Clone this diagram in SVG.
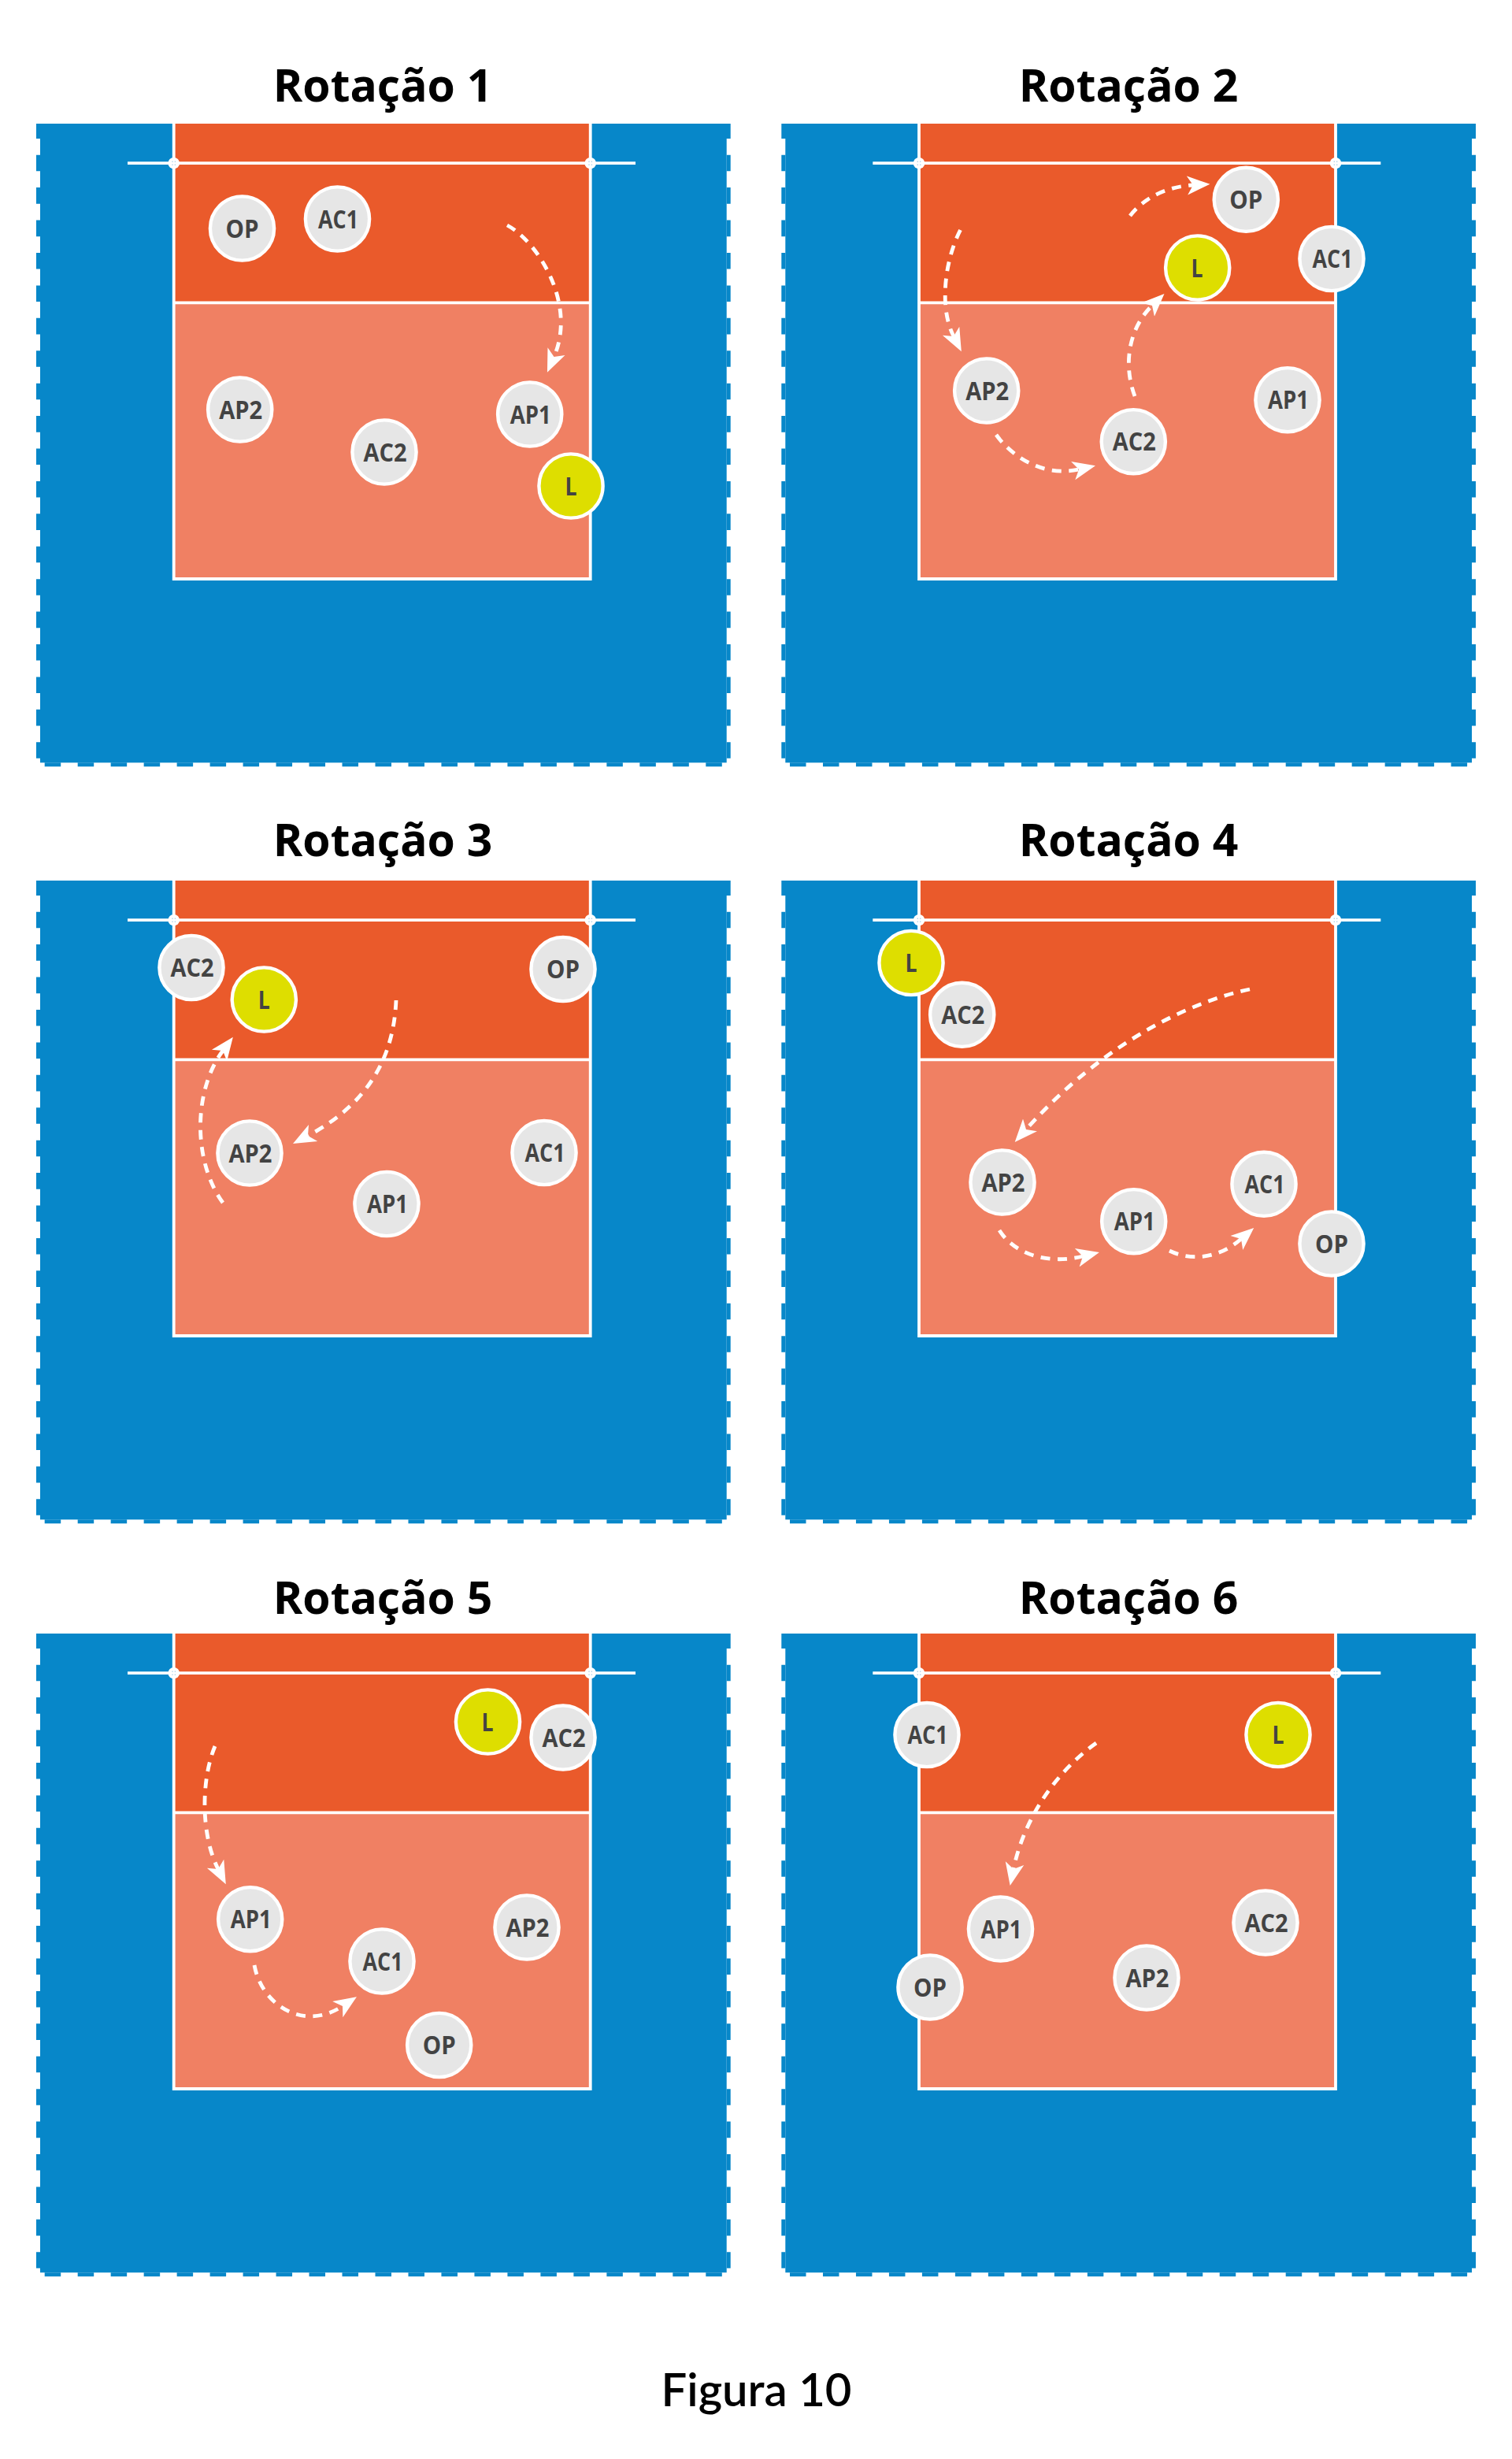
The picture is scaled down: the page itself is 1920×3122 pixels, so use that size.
<svg xmlns="http://www.w3.org/2000/svg" xmlns:xlink="http://www.w3.org/1999/xlink" width="1920" height="3122" viewBox="0 0 1920 3122">
<style>
.bg{fill:#0787c9}
.tooth{stroke:#0787c9;stroke-width:5;fill:none}
.front{fill:#ea5a2b}
.back{fill:#f08063}
.ln{stroke:#fff;stroke-width:3.8;fill:none}
.post{fill:#fff}
.pd{fill:#b5d6ea}
.title{font-family:"Open Sans","Liberation Sans",sans-serif;font-weight:700;font-size:57px;fill:#000;text-anchor:middle}
.fig{font-family:Lato,"Liberation Sans",sans-serif;font-weight:600;font-size:58px;fill:#000;text-anchor:middle}
.p circle{fill:#e6e6e6;stroke:#fff;stroke-width:4.4}
.p.lib circle{fill:#dede00}
.p text{font-family:"Open Sans","Liberation Sans",sans-serif;font-weight:700;font-size:32px;fill:#434343;text-anchor:middle}
.p text[textLength="51"],.p text[textLength="52"],.p text[textLength="55"]{transform:translateX(1px)}
.mv{fill:none;stroke:#fff;stroke-width:4.8;stroke-dasharray:12 9.5;marker-end:url(#ah)}
</style>
<defs>
<marker id="ah" markerUnits="userSpaceOnUse" markerWidth="34" markerHeight="28" refX="7.5" refY="14" orient="auto" viewBox="0 0 34 28"><path d="M0 2L29 14L0 26L7.5 14Z" fill="#fff"/></marker>
<g id="court">
<rect class="bg" x="51" y="157" width="871.7" height="811.3"/>
<rect class="bg" x="46" y="157" width="881.7" height="19"/>
<path class="tooth" stroke-dasharray="20.6 20.82" d="M48.5 196.7V963M925.2 196.7V963"/>
<path class="tooth" stroke-dasharray="20.5 21.48" d="M56.7 970.8H917"/>
<rect class="front" x="220.7" y="157" width="529" height="227.3"/>
<rect class="back" x="220.7" y="384.3" width="529" height="350.7"/>
<path class="ln" d="M220.7 157V735H749.7V157M220.7 384.3H749.7M162 207.2H807"/>
<circle class="post" cx="220.7" cy="207.2" r="7.3"/><circle class="post" cx="749.7" cy="207.2" r="7.3"/>
<path class="pd" d="M218.3 204.5h1.4v1.4h-1.4zM221.7 204.5h1.4v1.4h-1.4zM218.3 208.6h1.4v1.4h-1.4zM221.7 208.6h1.4v1.4h-1.4zM747.3 204.5h1.4v1.4h-1.4zM750.7 204.5h1.4v1.4h-1.4zM747.3 208.6h1.4v1.4h-1.4zM750.7 208.6h1.4v1.4h-1.4z"/>
</g>
</defs>
<rect width="1920" height="3122" fill="#fff"/>
<g id="courts">
<use xlink:href="#court" href="#court"/>
<use xlink:href="#court" href="#court" transform="translate(946.3,0)"/>
<use xlink:href="#court" href="#court" transform="translate(0,961)"/>
<use xlink:href="#court" href="#court" transform="translate(946.3,961)"/>
<use xlink:href="#court" href="#court" transform="translate(0,1917)"/>
<use xlink:href="#court" href="#court" transform="translate(946.3,1917)"/>
</g>
<g id="titles">
<text class="title" x="486" y="129">Rotação 1</text>
<text class="title" x="1433" y="129">Rotação 2</text>
<text class="title" x="486" y="1087">Rotação 3</text>
<text class="title" x="1433" y="1087">Rotação 4</text>
<text class="title" x="486" y="2049">Rotação 5</text>
<text class="title" x="1433" y="2049">Rotação 6</text>
<text class="fig" x="960.5" y="3055">Figura 10</text>
</g>
<g id="connectors">
<path class="mv" d="M644 286C682 306 733 385 703.5 453"/>
<path class="mv" d="M1219.5 292C1200 330 1192 390 1211 427"/>
<path class="mv" d="M1265 552C1285 580 1325 606 1370 596"/>
<path class="mv" d="M1441 503C1425 460 1435 415 1463 388"/>
<path class="mv" d="M1435 274C1452 252 1480 237 1515 235"/>
<path class="mv" d="M283 1527C245 1475 245 1385 283 1334"/>
<path class="mv" d="M503 1270C500 1340 470 1400 391 1442"/>
<path class="mv" d="M1587 1256C1510 1272 1400 1325 1303 1434"/>
<path class="mv" d="M1269 1562C1288 1592 1330 1606 1375 1595"/>
<path class="mv" d="M1485 1588C1510 1600 1545 1600 1576 1573"/>
<path class="mv" d="M273 2217C255 2260 255 2330 277 2373"/>
<path class="mv" d="M323 2495C332 2545 385 2580 435 2547"/>
<path class="mv" d="M1392 2213C1340 2250 1300 2310 1287 2373"/>
</g>
<g id="r1-op" class="p"><circle cx="307.5" cy="290" r="40.6"/><text x="307.5" y="301.5" textLength="42" lengthAdjust="spacingAndGlyphs">OP</text></g>
<g id="r1-ac1" class="p"><circle cx="428.5" cy="278" r="40.6"/><text x="428.5" y="289.5" textLength="51" lengthAdjust="spacingAndGlyphs">AC1</text></g>
<g id="r1-ap2" class="p"><circle cx="304.7" cy="520" r="40.6"/><text x="304.7" y="531.5" textLength="55" lengthAdjust="spacingAndGlyphs">AP2</text></g>
<g id="r1-ac2" class="p"><circle cx="488" cy="574" r="40.6"/><text x="488" y="585.5" textLength="55" lengthAdjust="spacingAndGlyphs">AC2</text></g>
<g id="r1-ap1" class="p"><circle cx="672.7" cy="526" r="40.6"/><text x="672.7" y="537.5" textLength="52" lengthAdjust="spacingAndGlyphs">AP1</text></g>
<g id="r1-l" class="p lib"><circle cx="725" cy="617" r="40.6"/><text x="725" y="628.5" textLength="15" lengthAdjust="spacingAndGlyphs">L</text></g>
<g id="r2-op" class="p"><circle cx="1582.3" cy="253.3" r="40.6"/><text x="1582.3" y="264.8" textLength="42" lengthAdjust="spacingAndGlyphs">OP</text></g>
<g id="r2-ac1" class="p"><circle cx="1691" cy="328.5" r="40.6"/><text x="1691" y="340" textLength="51" lengthAdjust="spacingAndGlyphs">AC1</text></g>
<g id="r2-l" class="p lib"><circle cx="1520.7" cy="340" r="40.6"/><text x="1520" y="351.5" textLength="15" lengthAdjust="spacingAndGlyphs">L</text></g>
<g id="r2-ap2" class="p"><circle cx="1252.7" cy="496" r="40.6"/><text x="1252.7" y="507.5" textLength="55" lengthAdjust="spacingAndGlyphs">AP2</text></g>
<g id="r2-ac2" class="p"><circle cx="1439.3" cy="560.7" r="40.6"/><text x="1439.3" y="572.2" textLength="55" lengthAdjust="spacingAndGlyphs">AC2</text></g>
<g id="r2-ap1" class="p"><circle cx="1635" cy="507.7" r="40.6"/><text x="1635" y="519.2" textLength="52" lengthAdjust="spacingAndGlyphs">AP1</text></g>
<g id="r3-ac2" class="p"><circle cx="243" cy="1228.5" r="40.6"/><text x="243" y="1240" textLength="55" lengthAdjust="spacingAndGlyphs">AC2</text></g>
<g id="r3-l" class="p lib"><circle cx="335.3" cy="1269" r="40.6"/><text x="335.3" y="1280.5" textLength="15" lengthAdjust="spacingAndGlyphs">L</text></g>
<g id="r3-op" class="p"><circle cx="715" cy="1230.5" r="40.6"/><text x="715" y="1242" textLength="42" lengthAdjust="spacingAndGlyphs">OP</text></g>
<g id="r3-ap2" class="p"><circle cx="317" cy="1464" r="40.6"/><text x="317" y="1475.5" textLength="55" lengthAdjust="spacingAndGlyphs">AP2</text></g>
<g id="r3-ap1" class="p"><circle cx="491" cy="1528.5" r="40.6"/><text x="491" y="1540" textLength="52" lengthAdjust="spacingAndGlyphs">AP1</text></g>
<g id="r3-ac1" class="p"><circle cx="691" cy="1463.5" r="40.6"/><text x="691" y="1475" textLength="51" lengthAdjust="spacingAndGlyphs">AC1</text></g>
<g id="r4-l" class="p lib"><circle cx="1157" cy="1222.5" r="40.6"/><text x="1157" y="1234" textLength="15" lengthAdjust="spacingAndGlyphs">L</text></g>
<g id="r4-ac2" class="p"><circle cx="1221.7" cy="1288.3" r="40.6"/><text x="1221.7" y="1299.8" textLength="55" lengthAdjust="spacingAndGlyphs">AC2</text></g>
<g id="r4-ap2" class="p"><circle cx="1273" cy="1501" r="40.6"/><text x="1273" y="1512.5" textLength="55" lengthAdjust="spacingAndGlyphs">AP2</text></g>
<g id="r4-ap1" class="p"><circle cx="1439.7" cy="1550.7" r="40.6"/><text x="1439.7" y="1562.2" textLength="52" lengthAdjust="spacingAndGlyphs">AP1</text></g>
<g id="r4-ac1" class="p"><circle cx="1605" cy="1503.3" r="40.6"/><text x="1605" y="1514.8" textLength="51" lengthAdjust="spacingAndGlyphs">AC1</text></g>
<g id="r4-op" class="p"><circle cx="1691" cy="1579" r="40.6"/><text x="1691" y="1590.5" textLength="42" lengthAdjust="spacingAndGlyphs">OP</text></g>
<g id="r5-l" class="p lib"><circle cx="619.5" cy="2186" r="40.6"/><text x="619" y="2197.5" textLength="15" lengthAdjust="spacingAndGlyphs">L</text></g>
<g id="r5-ac2" class="p"><circle cx="715" cy="2206" r="40.6"/><text x="715" y="2217.5" textLength="55" lengthAdjust="spacingAndGlyphs">AC2</text></g>
<g id="r5-ap1" class="p"><circle cx="317.7" cy="2436.7" r="40.6"/><text x="317.7" y="2448.2" textLength="52" lengthAdjust="spacingAndGlyphs">AP1</text></g>
<g id="r5-ac1" class="p"><circle cx="485" cy="2490" r="40.6"/><text x="485" y="2501.5" textLength="51" lengthAdjust="spacingAndGlyphs">AC1</text></g>
<g id="r5-ap2" class="p"><circle cx="669" cy="2447" r="40.6"/><text x="669" y="2458.5" textLength="55" lengthAdjust="spacingAndGlyphs">AP2</text></g>
<g id="r5-op" class="p"><circle cx="557.7" cy="2596.5" r="40.6"/><text x="557.7" y="2608" textLength="42" lengthAdjust="spacingAndGlyphs">OP</text></g>
<g id="r6-ac1" class="p"><circle cx="1177" cy="2202.5" r="40.6"/><text x="1177" y="2214" textLength="51" lengthAdjust="spacingAndGlyphs">AC1</text></g>
<g id="r6-l" class="p lib"><circle cx="1623" cy="2202.5" r="40.6"/><text x="1623" y="2214" textLength="15" lengthAdjust="spacingAndGlyphs">L</text></g>
<g id="r6-ap1" class="p"><circle cx="1270.5" cy="2449" r="40.6"/><text x="1270.5" y="2460.5" textLength="52" lengthAdjust="spacingAndGlyphs">AP1</text></g>
<g id="r6-ac2" class="p"><circle cx="1607" cy="2441" r="40.6"/><text x="1607" y="2452.5" textLength="55" lengthAdjust="spacingAndGlyphs">AC2</text></g>
<g id="r6-ap2" class="p"><circle cx="1456" cy="2511" r="40.6"/><text x="1456" y="2522.5" textLength="55" lengthAdjust="spacingAndGlyphs">AP2</text></g>
<g id="r6-op" class="p"><circle cx="1181" cy="2523" r="40.6"/><text x="1181" y="2534.5" textLength="42" lengthAdjust="spacingAndGlyphs">OP</text></g>
</svg>
